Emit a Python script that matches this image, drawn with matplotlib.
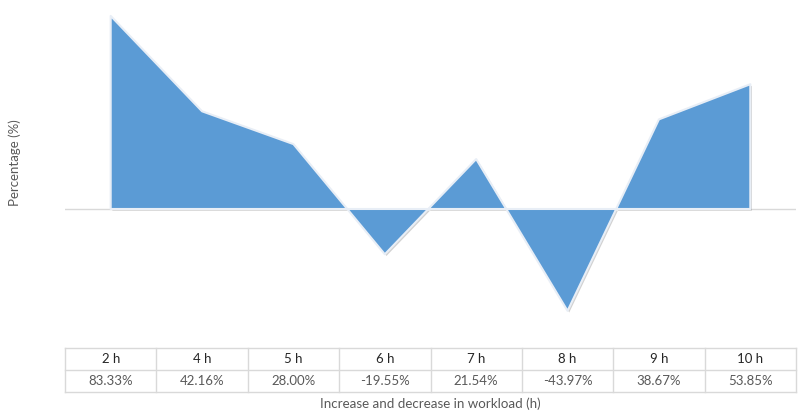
import numpy as np
import matplotlib.pyplot as plt
import matplotlib.patheffects as pe

hours = ['2 h', '4 h', '5 h', '6 h', '7 h', '8 h', '9 h', '10 h']
values = [83.33, 42.16, 28.00, -19.55, 21.54, -43.97, 38.67, 53.85]

plt.rcParams['font.family'] = ['Lato', 'DejaVu Sans']

W, H = 799, 413
fig = plt.figure(figsize=(W / 100, H / 100), dpi=100)

# plot area in pixels
left, right, top, bottom = 65, 796, 0, 348
ax = fig.add_axes([left / W, (H - bottom) / H, (right - left) / W, (bottom - top) / H])
x = np.arange(len(values))
ax.set_xlim(-0.5, len(values) - 0.5)
ax.set_ylim(-60, 90.2)
ax.axhline(0, color='#d9d9d9', lw=1, zorder=1)
poly = ax.fill_between(x, values, 0, facecolor='#5b9bd5', edgecolor='#e8eef6',
                       lw=1.5, zorder=2)
poly.set_path_effects([pe.SimplePatchShadow(offset=(1.2, -1.2), shadow_rgbFace='#7f7f7f', alpha=0.35),
                       pe.Normal()])
ax.axis('off')

# data table under the plot
tab = fig.add_axes([left / W, (H - 392) / H, (right - left) / W, 44 / H])
tab.set_xlim(-0.5, len(values) - 0.5)
tab.set_ylim(0, 2)
tab.axis('off')
grid = '#d9d9d9'
for yy in [0, 1, 2]:
    tab.plot([-0.5, len(values) - 0.5], [yy, yy], color=grid, lw=1, clip_on=False)
for xx in np.arange(len(values) + 1) - 0.5:
    tab.plot([xx, xx], [0, 2], color=grid, lw=1, clip_on=False)
for i, (h, v) in enumerate(zip(hours, values)):
    tab.text(i, 1.5, h, ha='center', va='center', fontsize=9.5, color='#262626')
    tab.text(i, 0.5, f'{v:.2f}%', ha='center', va='center', fontsize=9.5, color='#595959')

fig.text((left + right) / 2 / W, 1 - 404 / H, 'Increase and decrease in workload (h)',
         ha='center', va='center', fontsize=9.6, color='#595959')
fig.text(15 / W, 1 - 163 / H, 'Percentage (%)', rotation=90,
         ha='center', va='center', fontsize=9.5, color='#595959')

fig.savefig('out.png', dpi=100)
